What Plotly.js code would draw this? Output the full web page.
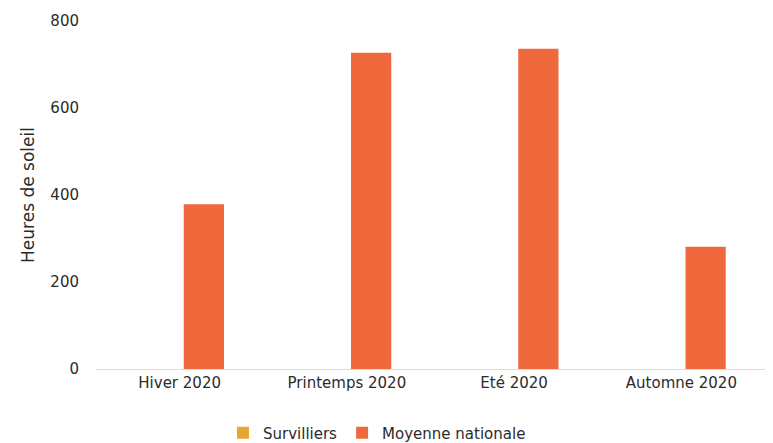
<!DOCTYPE html>
<html>
<head>
<meta charset="utf-8">
<script src="https://cdn.plot.ly/plotly-3.0.1.min.js"></script>
<style>html,body{margin:0;padding:0;background:#fff;}#chart{width:773px;height:443px;}</style>
</head>
<body>
<div id="chart"></div>
<script>
const categories = ["Hiver 2020", "Printemps 2020", "Eté 2020", "Automne 2020"];
const survilliers = [0, 0, 0, 0];
const moyenneNationale = [379, 727, 736, 281];
const yTicks = [0, 200, 400, 600, 800];

const font = {family: "DejaVu Sans, sans-serif", size: 15, color: "#2b2b2b"};
const titleFont = {family: "DejaVu Sans, sans-serif", size: 17, color: "#2b2b2b"};
const legendFont = {family: "DejaVu Sans, sans-serif", size: 15, color: "#2b2b2b"};

const data = [
  {type: "bar", name: "Survilliers", x: categories, y: survilliers, marker: {color: "#E8A437"}},
  {type: "bar", name: "Moyenne nationale", x: categories, y: moyenneNationale, marker: {color: "#F0693C"}}
];

const layout = {
  width: 773, height: 443,
  margin: {l: 96, r: 8, t: 21, b: 74, autoexpand: false},
  paper_bgcolor: "#ffffff", plot_bgcolor: "#ffffff",
  font: font,
  barmode: "group", bargap: 0.42, bargroupgap: 0.17,
  showlegend: true,
  legend: {orientation: "h", x: 0.42, xanchor: "center", y: -0.184, yanchor: "middle", font: legendFont, itemwidth: 30},
  xaxis: {showgrid: false, zeroline: false, showline: true, linecolor: "#d9dde2", linewidth: 1, ticks: "", tickfont: font, fixedrange: true, automargin: false},
  yaxis: {range: [0, 800], tickvals: yTicks, showgrid: false, zeroline: false, showline: false, ticks: "", ticklen: 0, tickfont: font, automargin: false,
          ticklabelstandoff: 16,
          title: {text: "Heures de soleil", font: titleFont, standoff: 11}}
};

Plotly.newPlot("chart", data, layout, {displayModeBar: false, staticPlot: true});
</script>
</body>
</html>
